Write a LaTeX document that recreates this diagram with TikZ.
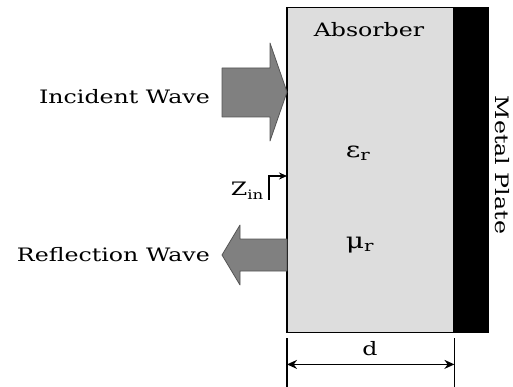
\documentclass[tikz,border=0pt]{standalone}
\usepackage{fontspec}
\setmainfont[FakeStretch=1.28]{DejaVu Serif}
\usetikzlibrary{arrows.meta, positioning, calc}
\definecolor{absorbergray}{RGB}{221, 221, 221}
\definecolor{wavegray}{RGB}{128, 128, 128}
\definecolor{waveedge}{RGB}{85, 85, 85}

\begin{document}
\begin{tikzpicture}[
    x=1pt, y=-1pt,
    absorberbox/.style={
        draw=black, line width=1.4pt, fill=absorbergray,
        minimum width=166pt, minimum height=325pt, inner sep=0pt, anchor=north west
    },
    platebox/.style={
        draw=black, line width=1.4pt, fill=black,
        minimum width=33pt, minimum height=325pt, inner sep=0pt, anchor=north west
    },
    wave/.style={fill=wavegray, draw=waveedge, line width=0.8pt, line join=round},
    label/.style={font=\fontsize{18.5}{22}\selectfont, inner sep=0pt},
    material/.style={font=\fontsize{22}{26}\selectfont, inner sep=0pt},
    dimline/.style={line width=1.4pt},
    arrow/.style={-{Stealth[length=8pt, width=7pt]}, line width=1.4pt},
    dimarrow/.style={{Stealth[length=10pt, width=9pt]}-{Stealth[length=10pt, width=9pt]}, line width=1.4pt}
]
\useasboundingbox (0,0) rectangle (513,387);

% ABSORBER AND METAL PLATE
\node[absorberbox] (absorber) at (287,7) {};
\node[platebox] (plate) at (absorber.north east) {};
\draw[line width=2.8pt] (absorber.north west) -- (absorber.south west);

\node[label] (absorbertext) at (369,30) {Absorber};
\node[material] (eps) at (358,153) {ε\textsubscript{r}};
\node[material] (mu) at (360,245) {μ\textsubscript{r}};
\node[label, rotate=-90] (platetext) at (502,165) {Metal Plate};

% WAVES
\draw[wave] (222,68) -- (270,68) -- (270,43) -- (287,92) -- (270,141) -- (270,117) -- (222,117) -- cycle;
\draw[wave] (287,239) -- (240,239) -- (240,225) -- (222,255) -- (240,285) -- (240,271) -- (287,271) -- cycle;
\node[label, anchor=east] (incident) at (210,97) {Incident Wave};
\node[label, anchor=east] (reflection) at (210,255) {Reflection Wave};

% INPUT IMPEDANCE
\node[label, anchor=east] (zin) at (264,191) {Z\textsubscript{in}};
\coordinate (zinfoot) at (269,200);
\coordinate (zincorner) at (269,176);
\draw[arrow] (zinfoot) -- (zincorner) -- (zincorner -| absorber.west);

% THICKNESS
\coordinate (tickleft) at ($(absorber.south west)+(0,5)$);
\coordinate (tickright) at ($(absorber.south east)+(0,5)$);
\draw[dimline] (tickleft) -- ++(0,49);
\draw[dimline] (tickright) -- ++(0,49);
\draw[dimarrow] ($(tickleft)+(0,26)$) -- ($(tickright)+(0,26)$);
\node[label] (d) at (370,349) {d};

\end{tikzpicture}
\end{document}
